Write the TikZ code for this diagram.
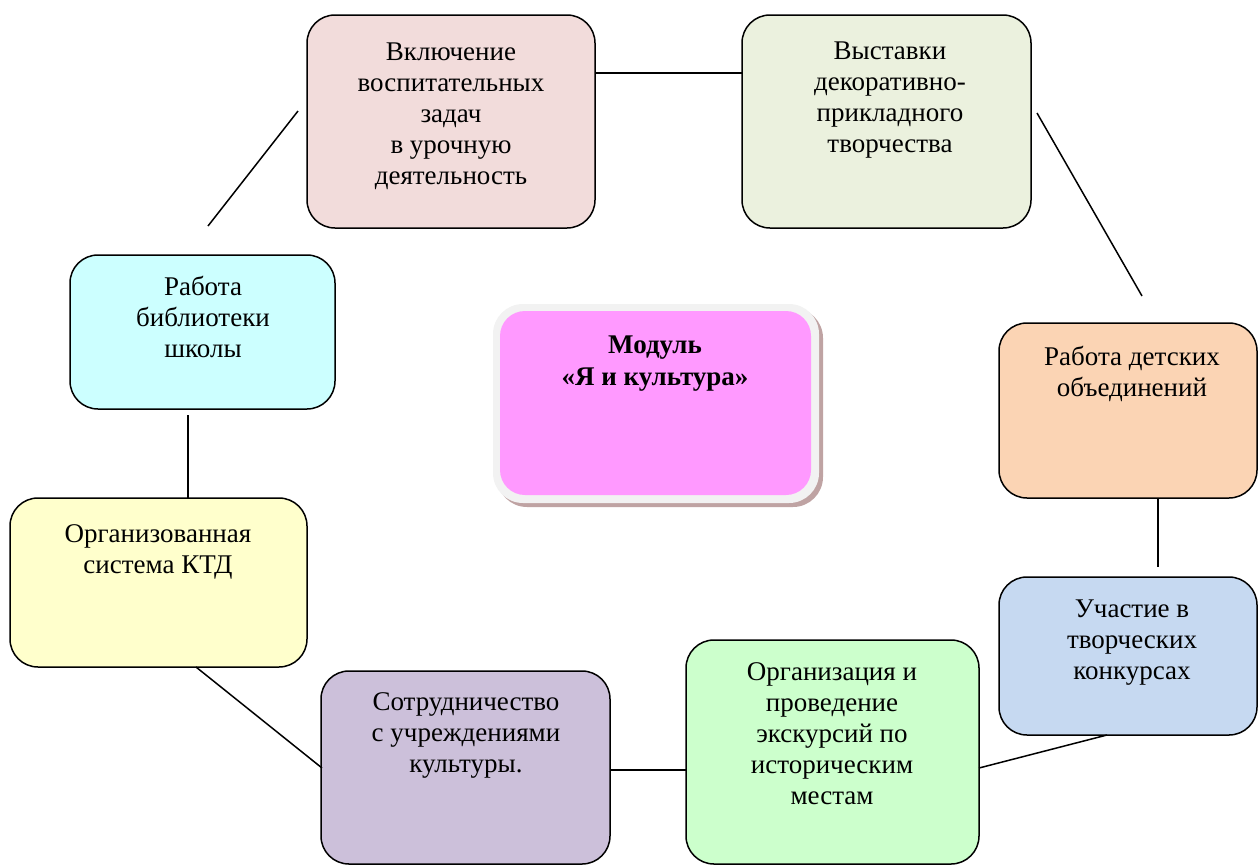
\documentclass[tikz,border=0pt]{standalone}
\usepackage{fontspec}
\setmainfont{Liberation Serif}
\definecolor{cpink}{HTML}{F2DCDB}
\definecolor{cgreen}{HTML}{EBF1DE}
\definecolor{corange}{HTML}{FBD4B4}
\definecolor{cblue}{HTML}{C6D9F1}
\definecolor{clime}{HTML}{CCFFCC}
\definecolor{cpurple}{HTML}{CCC0DA}
\definecolor{cyellow}{HTML}{FFFFCC}
\definecolor{ccyan}{HTML}{CCFFFF}
\definecolor{cmagenta}{HTML}{FF99FF}
\definecolor{cframe}{HTML}{F2F2F2}
\definecolor{cshadow}{HTML}{BFA3A3}
\tikzset{
  box/.style={draw=black, line width=1.5pt, rounded corners=28pt, inner sep=0pt, outer sep=0pt},
  boxtext/.style={anchor=base, align=center, inner sep=0pt, font=\fontsize{27}{31}\selectfont},
  link/.style={draw=black, line width=1.5pt}
}
\begin{document}
\begin{tikzpicture}[x=1pt,y=-1pt]
\useasboundingbox (0,0) rectangle (1258,865);
% boxes
\node[box, fill=cpink, minimum width=288pt, minimum height=213pt] (b1) at (451,121.5) {};
\node[box, fill=cgreen, minimum width=289pt, minimum height=213pt] (b2) at (886.5,121.5) {};
\node[box, fill=corange, minimum width=258pt, minimum height=175pt] (b3) at (1128,410.5) {};
\node[box, fill=cblue, minimum width=258pt, minimum height=158pt] (b4) at (1128,656) {};
\node[box, fill=clime, minimum width=293pt, minimum height=224pt] (b5) at (832.5,752) {};
\node[box, fill=cpurple, minimum width=289pt, minimum height=193pt] (b6) at (465.5,767.5) {};
\node[box, fill=cyellow, minimum width=297pt, minimum height=169pt] (b7) at (158.5,582.5) {};
\node[box, fill=ccyan, minimum width=265pt, minimum height=154pt] (b8) at (202.5,332) {};
% centre module
\node[fill=cshadow, rounded corners=30pt, inner sep=0pt, minimum width=326pt, minimum height=199pt] (msh) at (660,407.5) {};
\node[fill=cframe, rounded corners=30pt, inner sep=0pt, minimum width=326pt, minimum height=199pt] (mfr) at (656,403.5) {};
\node[fill=cmagenta, rounded corners=25pt, inner sep=0pt, minimum width=311pt, minimum height=184pt] (mod) at (655.5,403) {};
% texts (anchored at the baseline of their last line)
\node[boxtext] (t1) at (451,184) {Включение\\воспитательных\\задач\\в урочную\\деятельность};
\node[boxtext] (t2) at (890,152) {Выставки\\декоративно-\\прикладного\\творчества};
\node[boxtext] (t3) at (1132,396) {Работа детских\\объединений};
\node[boxtext] (t4) at (1132,679) {Участие в\\творческих\\конкурсах};
\node[boxtext] (t5) at (832,804) {Организация и\\проведение\\экскурсий по\\историческим\\местам};
\node[boxtext] (t6) at (466,772) {Сотрудничество\\с учреждениями\\культуры.};
\node[boxtext] (t7) at (158,573) {Организованная\\система КТД};
\node[boxtext] (t8) at (203,357) {Работа\\библиотеки\\школы};
\node[boxtext, font=\fontsize{27}{32}\selectfont\bfseries] (tm) at (655,385) {Модуль\\«Я и культура»};
% connector end points
\coordinate (c1a) at (595,73);   \coordinate (c1b) at (742,73);
\coordinate (c2a) at (1037,113); \coordinate (c2b) at (1142,296);
\coordinate (c3a) at (1158,498); \coordinate (c3b) at (1158,567);
\coordinate (c4a) at (1107,735); \coordinate (c4b) at (979,768);
\coordinate (c5a) at (610,770);  \coordinate (c5b) at (686,770);
\coordinate (c6a) at (196,667);  \coordinate (c6b) at (322,768);
\coordinate (c7a) at (188,415);  \coordinate (c7b) at (188,498);
\coordinate (c8a) at (298,111);  \coordinate (c8b) at (208,226);
\draw[link] (c1a) -- (c1b);
\draw[link] (c2a) -- (c2b);
\draw[link] (c3a) -- (c3b);
\draw[link] (c4a) -- (c4b);
\draw[link] (c5a) -- (c5b);
\draw[link] (c6a) -- (c6b);
\draw[link] (c7a) -- (c7b);
\draw[link] (c8a) -- (c8b);
\end{tikzpicture}
\end{document}
